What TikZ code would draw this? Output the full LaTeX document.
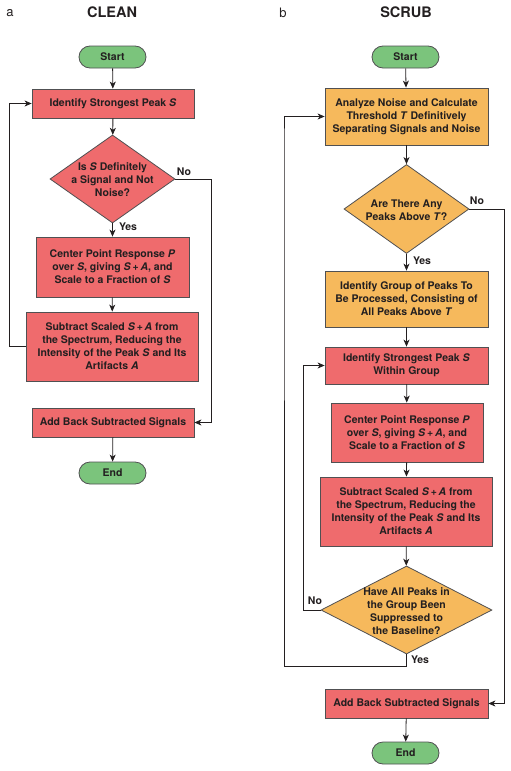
\documentclass[tikz,border=0pt]{standalone}
\usepackage{fontspec}
\setmainfont{TeX Gyre Heros}
\usetikzlibrary{arrows.meta,shapes.geometric}
\definecolor{cred}{HTML}{EF6B6D}
\definecolor{corange}{HTML}{F6B95C}
\definecolor{cgreen}{HTML}{7BC47C}
\definecolor{cline}{HTML}{231F20}
\definecolor{cborder}{HTML}{505052}
\begin{document}
\begin{tikzpicture}[x=1pt,y=-1pt,
  box/.style={draw=cborder, line width=0.8pt, rectangle, inner sep=0pt,
    font=\fontsize{10.5}{13}\selectfont\bfseries, align=center, text=cline},
  redbox/.style={box, fill=cred},
  orbox/.style={box, fill=corange},
  term/.style={box, fill=cgreen, rounded corners=11pt, minimum width=67pt, minimum height=22pt},
  dia/.style={draw=cborder, line width=0.8pt, diamond, inner sep=0pt},
  diatxt/.style={inner sep=0pt, font=\fontsize{10.5}{13}\selectfont\bfseries, align=center, text=cline},
  lab/.style={inner sep=0pt, font=\fontsize{10.5}{13}\selectfont\bfseries, text=cline},
  ttl/.style={inner sep=0pt, font=\fontsize{14.5}{16}\selectfont\bfseries, text=cline},
  pl/.style={inner sep=0pt, font=\fontsize{13}{15}\selectfont, text=cline},
  arr/.style={draw=cline, line width=0.8pt, -{Stealth[length=7pt,width=6pt,inset=2pt]}}
]
\useasboundingbox (0,0) rectangle (511,771);

% ---------- titles ----------
\node[pl] (pa) at (10,13) {a};
\node[ttl] (tclean) at (112,12) {CLEAN};
\node[pl] (pb) at (283,13) {b};
\node[ttl] (tscrub) at (406,12) {SCRUB};

% ---------- CLEAN ----------
\node[term] (start1) at (112.5,57) {Start};
\node[redbox, minimum width=162pt, minimum height=29pt] (id1) at (113,103.5) {Identify Strongest Peak \textit{S}};
\node[dia, fill=cred, minimum width=125pt, minimum height=88pt] (d1) at (112.5,179) {};
\node[diatxt] (d1t) at (112.5,180) {Is \textit{S} Definitely\\a Signal and Not\\Noise?};
\node[redbox, minimum width=153pt, minimum height=60pt] (cp1) at (112.5,267) {Center Point Response \textit{P}\\over \textit{S}, giving \textit{S}\,+\,\textit{A}, and\\Scale to a Fraction of \textit{S}};
\node[redbox, minimum width=172pt, minimum height=69pt] (sub1) at (112,346.5) {Subtract Scaled \textit{S}\,+\,\textit{A} from\\the Spectrum, Reducing the\\Intensity of the Peak \textit{S} and Its\\Artifacts \textit{A}};
\node[redbox, minimum width=162pt, minimum height=29pt] (add1) at (113,422.5) {Add Back Subtracted Signals};
\node[term] (end1) at (112.5,473) {End};

\draw[arr] (start1) -- (id1);
\draw[arr] (id1) -- (d1);
\draw[arr] (d1) -- (cp1);
\draw[arr] (cp1) -- (sub1);
\draw[arr] (add1) -- (end1);
\draw[arr] (d1.east) -- ++(36,0) |- (add1.east);
\draw[arr] (sub1.west) -- ++(-16.5,0) |- (id1.west);
\node[lab] (no1) at (184,172) {No};
\node[lab] (yes1) at (128,227) {Yes};

% ---------- SCRUB ----------
\node[term] (start2) at (405.5,57) {Start};
\node[orbox, minimum width=163pt, minimum height=57pt] (an) at (406.5,116.5) {Analyze Noise and Calculate\\Threshold \textit{T} Definitively\\Separating Signals and Noise};
\node[dia, fill=corange, minimum width=125pt, minimum height=89pt] (d2) at (406.5,209) {};
\node[diatxt] (d2t) at (406.5,210) {Are There Any\\Peaks Above \textit{T}?};
\node[orbox, minimum width=163pt, minimum height=56pt] (grp) at (406.5,299) {Identify Group of Peaks To\\Be Processed, Consisting of\\All Peaks Above \textit{T}};
\node[redbox, minimum width=163pt, minimum height=37pt] (id2) at (406.5,365.5) {Identify Strongest Peak \textit{S}\\Within Group};
\node[redbox, minimum width=152pt, minimum height=59pt] (cp2) at (407,432.5) {Center Point Response \textit{P}\\over \textit{S}, giving \textit{S}\,+\,\textit{A}, and\\Scale to a Fraction of \textit{S}};
\node[redbox, minimum width=172pt, minimum height=69pt] (sub2) at (406,511.5) {Subtract Scaled \textit{S}\,+\,\textit{A} from\\the Spectrum, Reducing the\\Intensity of the Peak \textit{S} and Its\\Artifacts \textit{A}};
\node[dia, fill=corange, minimum width=171pt, minimum height=88pt] (d3) at (406.5,610) {};
\node[diatxt] (d3t) at (406.5,611) {Have All Peaks in\\the Group Been\\Suppressed to\\the Baseline?};
\node[redbox, minimum width=163pt, minimum height=29pt] (add2) at (406.5,703.5) {Add Back Subtracted Signals};
\node[term] (end2) at (405.5,753) {End};

\draw[arr] (start2) -- (an);
\draw[arr] (an) -- (d2);
\draw[arr] (d2) -- (grp);
\draw[arr] (grp) -- (id2);
\draw[arr] (id2) -- (cp2);
\draw[arr] (cp2) -- (sub2);
\draw[arr] (sub2) -- (d3);
\draw[arr] (add2) -- (end2);
\draw[arr] (d2.east) -- ++(35,0) |- (add2.east);
\draw[arr] (d3.west) -- ++(-17,0) |- (id2.west);
\draw[arr] (d3.south) -- ++(0,12) -| (284,140) |- (an.west);
\node[lab] (no2) at (477,201) {No};
\node[lab] (yes2) at (422,261) {Yes};
\node[lab] (no3) at (315,601) {No};
\node[lab] (yes3) at (420,660) {Yes};
\end{tikzpicture}
\end{document}
